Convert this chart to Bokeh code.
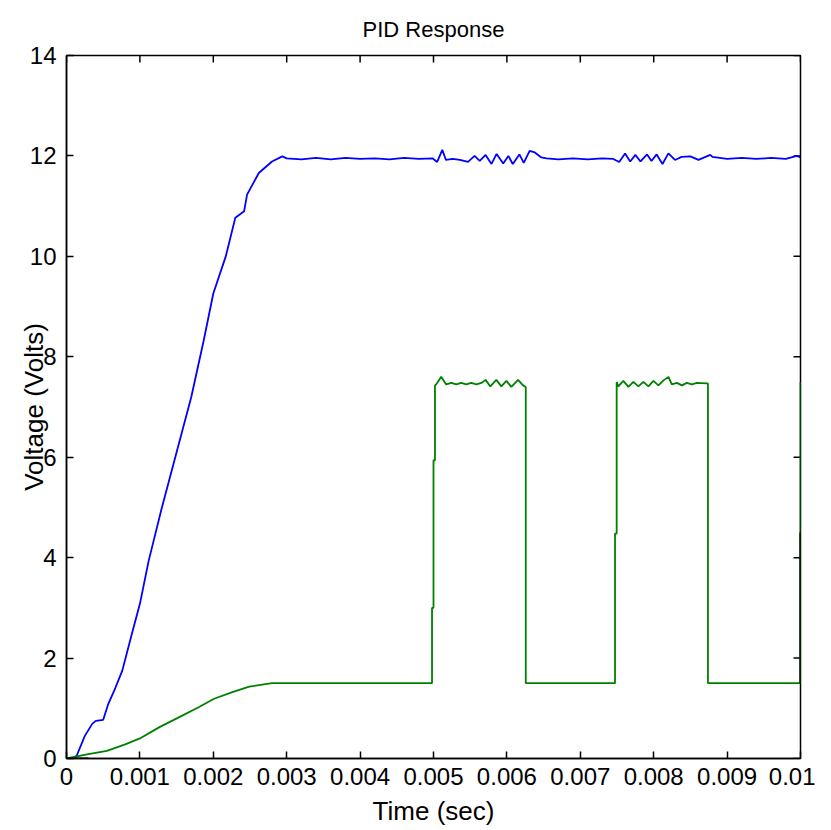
import math
from bokeh.plotting import figure
from bokeh.models import FixedTicker, Range1d
from bokeh.embed import file_html
from bokeh.resources import INLINE

# ---- data ----
blue_t = [0, 0.0001, 0.00014, 0.00025, 0.00035, 0.0004, 0.0005, 0.00057, 0.00065,
          0.00076, 0.00089, 0.001, 0.00112, 0.0013, 0.0015, 0.0017, 0.00187, 0.002,
          0.00217, 0.0023, 0.00242, 0.00246, 0.00262, 0.0028, 0.00294, 0.003,
          0.0032, 0.0034, 0.0036, 0.0038, 0.004, 0.0042, 0.0044, 0.0046, 0.0048,
          0.00499, 0.00505, 0.00512, 0.00517, 0.00526, 0.00536, 0.00547, 0.00556,
          0.00563, 0.00571, 0.00579, 0.00586, 0.00595, 0.00602, 0.00608, 0.00617,
          0.00623, 0.00631, 0.00638, 0.00647, 0.00654, 0.0067, 0.0069, 0.0071,
          0.0073, 0.00745, 0.00753, 0.00761, 0.00768, 0.00775, 0.00782, 0.00791,
          0.00797, 0.00804, 0.00812, 0.0082, 0.00829, 0.00838, 0.0085, 0.00861,
          0.00877, 0.0088, 0.009, 0.0092, 0.0094, 0.0096, 0.0098, 0.00995, 0.01]
blue_v = [0, 0, 0.06, 0.45, 0.69, 0.75, 0.77, 1.09, 1.35,
          1.75, 2.48, 3.08, 3.94, 5.0, 6.1, 7.2, 8.33, 9.26,
          10.0, 10.77, 10.9, 11.23, 11.66, 11.89, 11.99, 11.95,
          11.93, 11.96, 11.93, 11.96, 11.94, 11.95, 11.93, 11.96, 11.94,
          11.95, 11.88, 12.12, 11.92, 11.94, 11.92, 11.88, 12.0,
          11.9, 12.02, 11.84, 12.04, 11.85, 12.0, 11.84, 12.03,
          11.86, 12.1, 12.07, 11.97, 11.95, 11.93, 11.95, 11.93,
          11.95, 11.94, 11.88, 12.05, 11.89, 12.02, 11.89, 12.03,
          11.9, 12.03, 11.84, 12.05, 11.92, 11.98, 11.99, 11.92,
          12.02, 11.98, 11.94, 11.96, 11.94, 11.96, 11.94, 12.0, 11.97]

green_t = [0, 0.00028, 0.00055, 0.0008, 0.001, 0.00126, 0.00153, 0.0018, 0.00201,
           0.00226, 0.00249, 0.0028, 0.0033, 0.00498, 0.00498, 0.005, 0.005,
           0.00502, 0.00502, 0.005036, 0.005105, 0.005173, 0.005242, 0.00531,
           0.005378, 0.005447, 0.005515, 0.005583, 0.005652, 0.00571, 0.005774,
           0.005856, 0.005925, 0.005993, 0.006061, 0.006152, 0.00622, 0.006257,
           0.006257, 0.007473, 0.007473, 0.0074955, 0.0074955, 0.007518, 0.007586,
           0.007655, 0.007723, 0.007791, 0.00786, 0.007928, 0.007996, 0.008064,
           0.008133, 0.008201, 0.008247, 0.008315, 0.008384, 0.008452, 0.00852,
           0.008589, 0.008725, 0.008739, 0.008739, 0.01, 0.01]
green_v = [0.0, 0.08, 0.15, 0.28, 0.4, 0.62, 0.82, 1.02, 1.19,
           1.32, 1.43, 1.5, 1.5, 1.5, 3.0, 3.0, 5.94,
           5.94, 7.43, 7.45, 7.6, 7.45, 7.48, 7.45,
           7.48, 7.45, 7.48, 7.45, 7.48, 7.54, 7.41,
           7.54, 7.41, 7.52, 7.4, 7.54, 7.43, 7.4,
           1.5, 1.5, 4.48, 4.48, 7.5, 7.41, 7.52,
           7.4, 7.5, 7.41, 7.5, 7.41, 7.52, 7.43,
           7.53, 7.6, 7.45, 7.48, 7.43, 7.48, 7.45,
           7.48, 7.47, 7.47, 1.5, 1.5, 7.5]

black1_t = [0, 0.0003]
black1_v = [0, 0]
black2_t = [0.01, 0.01]
black2_v = [1.5, 4.5]

x_ticks = [0, 0.001, 0.002, 0.003, 0.004, 0.005, 0.006, 0.007, 0.008, 0.009, 0.01]
x_tick_labels = ["0", "0.001", "0.002", "0.003", "0.004", "0.005", "0.006",
                 "0.007", "0.008", "0.009", "0.01"]
y_ticks = [0, 2, 4, 6, 8, 10, 12, 14]
x_min, x_max = 0, 0.01
y_min, y_max = 0, 14

FONT = "Liberation Sans"

p = figure(width=815, height=814, frame_width=734, frame_height=703,
           x_range=Range1d(x_min, x_max), y_range=Range1d(y_min, y_max),
           output_backend="svg", toolbar_location=None,
           min_border_left=66, min_border_top=55, min_border_right=15,
           min_border_bottom=56, title="PID Response")
p.title.align = "center"
p.title.text_font = FONT
p.title.text_font_size = "22px"
p.title.text_font_style = "normal"
p.title.text_color = "#000000"
p.title.standoff = 28

p.xgrid.visible = False
p.ygrid.visible = False
p.outline_line_color = "#000000"
p.outline_line_width = 1.5

for ax in (p.xaxis[0], p.yaxis[0]):
    ax.axis_line_color = "#000000"
    ax.axis_line_width = 1.5
    ax.major_tick_in = 7
    ax.major_tick_out = 0
    ax.major_tick_line_width = 1.5
    ax.minor_tick_line_color = None
    ax.major_label_text_font = FONT
    ax.major_label_text_font_size = "24px"
    ax.major_label_text_color = "#000000"
    ax.axis_label_text_font = FONT
    ax.axis_label_text_font_size = "26px"
    ax.axis_label_text_font_style = "normal"
    ax.axis_label_text_color = "#000000"

p.xaxis[0].ticker = FixedTicker(ticks=x_ticks)
p.xaxis[0].major_label_overrides = {t: s for t, s in zip(x_ticks, x_tick_labels)}
p.xaxis[0].axis_label = "Time (sec)"
p.xaxis[0].major_label_standoff = 9
p.xaxis[0].axis_label_standoff = 8
p.yaxis[0].ticker = FixedTicker(ticks=y_ticks)
p.yaxis[0].axis_label = "Voltage (Volts)"
p.yaxis[0].major_label_standoff = 10
p.yaxis[0].axis_label_standoff = -22

# mirrored inward ticks on the top and right edges (half of each dash is clipped by the frame)
p.scatter(x_ticks, [y_max] * len(x_ticks), marker="dash", size=14, angle=math.pi / 2,
          line_color="#000000", line_width=1.5)
p.scatter([x_max] * len(y_ticks), y_ticks, marker="dash", size=14,
          line_color="#000000", line_width=1.5)

p.line(blue_t, blue_v, line_color="#0000ff", line_width=1.8)
p.line(green_t, green_v, line_color="#008000", line_width=1.8)
p.line(black1_t, black1_v, line_color="#000000", line_width=2.2)
p.line(black2_t, black2_v, line_color="#000000", line_width=2.2)

open("out.html", "w").write(file_html(p, INLINE))
